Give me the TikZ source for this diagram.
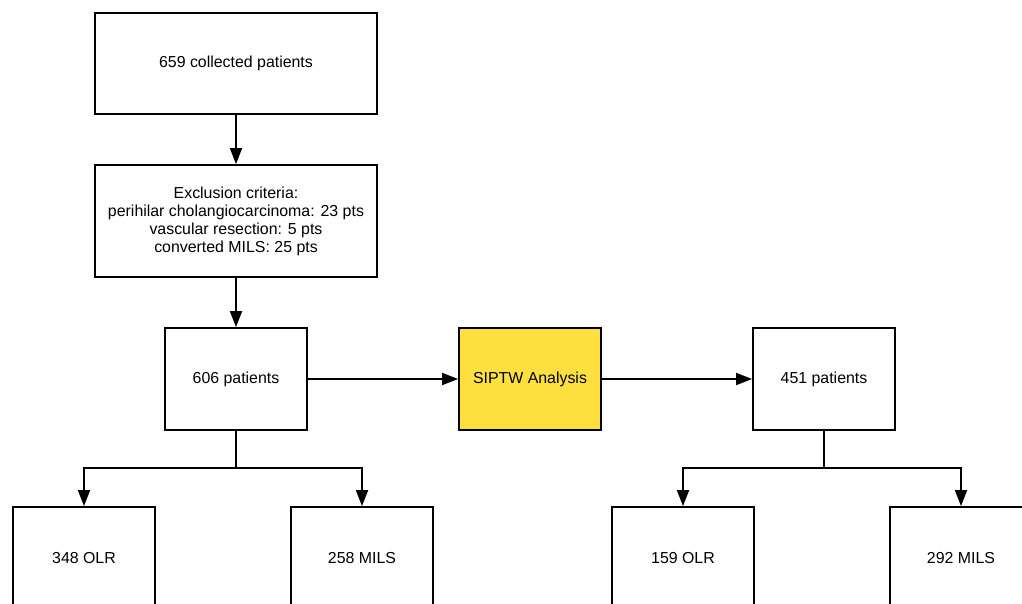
\documentclass[tikz,border=0pt]{standalone}
\usepackage{fontspec}
\setmainfont{Liberation Sans}
\usetikzlibrary{arrows.meta}
\definecolor{sipyellow}{RGB}{253,224,64}
\begin{document}
\begin{tikzpicture}[x=1pt,y=-1pt,
  box/.style={draw=black,line width=1.8pt,fill=white,inner sep=2pt,align=center,
    font=\fontsize{15.9}{18}\selectfont},
  arr/.style={line width=1.8pt,-{Triangle[length=16pt,width=12pt]}},
  ln/.style={line width=1.8pt}]
\clip (0,0) rectangle (1022,603);
\fill[white] (0,0) rectangle (1022,603);
\node[box,minimum width=282pt,minimum height=101pt] (b1) at (236,63.5) {659 collected patients};
\node[box,minimum width=282pt,minimum height=112pt] (b2) at (236,221)
  {Exclusion criteria:\\perihilar cholangiocarcinoma: 23 pts\\vascular resection: 5 pts\\converted MILS: 25 pts};
\node[box,minimum width=142pt,minimum height=102pt] (p606) at (236,379) {606 patients};
\node[box,fill=sipyellow,minimum width=142pt,minimum height=102pt] (sip) at (530,379) {SIPTW Analysis};
\node[box,minimum width=142pt,minimum height=102pt] (p451) at (824,379) {451 patients};
\node[box,minimum width=142pt,minimum height=102pt] (olr1) at (84,558) {348 OLR};
\node[box,minimum width=142pt,minimum height=102pt] (mils1) at (362,558) {258 MILS};
\node[box,minimum width=142pt,minimum height=102pt] (olr2) at (683,558) {159 OLR};
\node[box,minimum width=142pt,minimum height=102pt] (mils2) at (961,558) {292 MILS};
\draw[arr] (b1) -- (b2);
\draw[arr] (b2) -- (p606);
\draw[arr] (p606) -- (sip);
\draw[arr] (sip) -- (p451);
\coordinate (bus1) at (236,468);
\coordinate (bus2) at (824,468);
\draw[ln] (p606) -- (bus1);
\draw[arr] (bus1) -| (olr1);
\draw[arr] (bus1) -| (mils1);
\draw[ln] (p451) -- (bus2);
\draw[arr] (bus2) -| (olr2);
\draw[arr] (bus2) -| (mils2);
\end{tikzpicture}
\end{document}
